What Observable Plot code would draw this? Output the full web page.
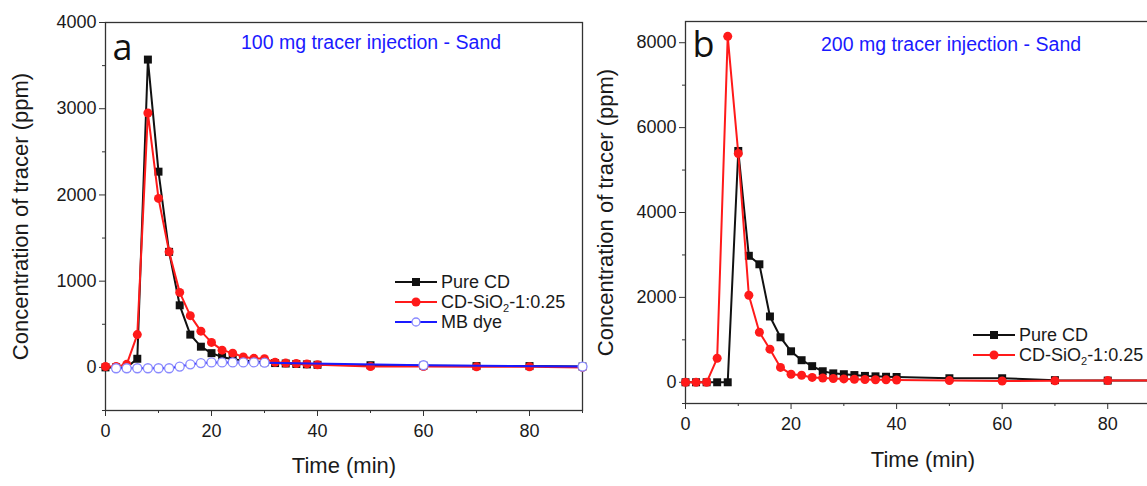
<!DOCTYPE html>
<html><head><meta charset="utf-8">
<script src="https://cdn.jsdelivr.net/npm/d3@7"></script>
<script src="https://cdn.jsdelivr.net/npm/@observablehq/plot@0.6"></script>
<style>
html,body{margin:0;padding:0;background:#fff;overflow:hidden;width:1147px;height:486px;}
#wrap{position:relative;width:1147px;height:486px;overflow:hidden;font-family:"Liberation Sans",Arial,sans-serif;}
.panel{position:absolute;top:0;}
.panel svg{max-width:none !important;display:block;}
.legend{position:absolute;font-size:18px;color:#1a1a1a;line-height:20px;}
.legend .row{display:flex;align-items:center;height:20px;white-space:nowrap;}
.legend svg{margin-right:4px;}
.legend sub{font-size:11px;line-height:0;vertical-align:-4px;}
</style></head><body><div id="wrap"></div>
<script>
// ---------- data ----------
const times = [0,2,4,6,8,10,12,14,16,18,20,22,24,26,28,30,32,34,36,38,40,50,60,70,80,90];
// panel a: 100 mg tracer injection - Sand
const pureCD_a = [0,0,0,100,3570,2270,1340,720,380,240,165,120,95,80,70,60,50,45,40,35,30,25,20,15,15,10];
const cdSiO2_a = [10,10,35,380,2950,1960,1340,870,600,420,290,200,165,120,105,100,60,50,45,40,30,10,10,8,8,0];
const timesMB = [2,4,6,8,10,12,14,16,18,20,22,24,26,28,30,60,90];
const mbDye_a = [-10,-10,-10,-10,-10,-10,10,35,50,58,58,58,58,58,55,25,10];
// panel b: 200 mg tracer injection - Sand
const pureCD_b = [0,0,0,0,0,5450,2980,2780,1550,1060,730,520,380,260,210,190,170,150,140,130,125,95,95,50,40,40];
const cdSiO2_b = [0,0,0,565,8150,5390,2050,1180,780,350,190,165,115,100,90,80,70,65,60,58,55,40,30,35,40,40];

const xMajor = [0,20,40,60,80];
const xMinor = [10,30,50,70,90];
const yMajorA = [0,1000,2000,3000,4000];
const yMinorA = [-500,500,1500,2500,3500];
const yMajorB = [0,2000,4000,6000,8000];
const yMinorB = [-500,1000,3000,5000,7000];

const titles = ["100 mg tracer injection - Sand","200 mg tracer injection - Sand"];

const rows = (xs, ys) => xs.map((t,i)=>({t, v: ys[i]}));

const FONT = "'Liberation Sans', Arial, sans-serif";
const BLACK = "#111", RED = "#ff1a1a", BLUE = "#1a1aff", MBC = "#8a8aff";

function makePanel(o){
  const fmt = d => String(d);
  const marks = [
    Plot.frame({stroke:"#333", strokeWidth:1.3}),
    Plot.axisX(xMajor, {tickSize:6, tickPadding:8, tickFormat:fmt, label:null, fontSize:18, stroke:"#333"}),
    Plot.axisX(xMinor, {tickSize:3, tickFormat:()=>"", label:null, stroke:"#333"}),
    Plot.axisY(o.yMajor, {tickSize:6, tickPadding:3, tickFormat:fmt, label:null, fontSize:18, stroke:"#333"}),
    Plot.axisY(o.yMinor, {tickSize:3, tickFormat:()=>"", label:null, stroke:"#333"}),
    Plot.text(["Concentration of tracer (ppm)"], {frameAnchor:"left", textAnchor:"middle", rotate:-90, dx:o.ytdx, fontSize:22, fill:"#1a1a1a"}),
    Plot.text(["Time (min)"], {frameAnchor:"bottom", dy:o.xtdy, fontSize:22, fill:"#1a1a1a"}),
    Plot.text([o.title], {frameAnchor:"top", dx:o.tdx, dy:o.tdy, fontSize:19.5, fill:BLUE}),
    Plot.text([o.letter], {frameAnchor:"top-left", textAnchor:"start", dx:7, dy:o.ldy, fontSize:36, fill:"#111", fontFamily:"'Open Sans', sans-serif"}),
  ];
  for (const s of o.series){
    const d = rows(s.x, s.y);
    marks.push(Plot.line(d, {x:"t", y:"v", stroke:s.color, strokeWidth:2}));
    marks.push(Plot.dot(d, {x:"t", y:"v", symbol:s.symbol, r:s.r, fill:s.fill, stroke:s.stroke, strokeWidth:s.sw||1}));
  }
  return Plot.plot({
    width:o.width, height:486,
    marginLeft:o.ml, marginRight:o.mr, marginTop:o.mt, marginBottom:o.mb,
    style:{fontFamily:FONT, fontSize:"18px", color:"#1a1a1a", background:"transparent", overflow:"visible", maxWidth:"none"},
    x:{domain:[0,90]},
    y:{domain:o.yDomain},
    marks
  });
}

const wrap = document.getElementById("wrap");

const pa = makePanel({
  width:600, ml:105, mr:18, mt:22, mb:76, yDomain:[-500,4000],
  yMajor:yMajorA, yMinor:yMinorA, ytdx:-85, xtdy:62, tdx:27, tdy:13,
  title:titles[0], letter:"a", ldy:12,
  series:[
    {x:times, y:pureCD_a, color:BLACK, symbol:"square", r:4.5, fill:BLACK, stroke:"none"},
    {x:times, y:cdSiO2_a, color:RED, symbol:"circle", r:4.5, fill:RED, stroke:"none"},
    {x:timesMB, y:mbDye_a, color:BLUE, symbol:"circle", r:4.5, fill:"white", stroke:MBC, sw:1.3},
  ]
});
const da = document.createElement("div"); da.className="panel"; da.style.left="0px"; da.style.width="600px"; da.appendChild(pa); wrap.appendChild(da);

const pb = makePanel({
  width:590, ml:95, mr:20, mt:21, mb:83, yDomain:[-500,8500],
  yMajor:yMajorB, yMinor:yMinorB, ytdx:-80, xtdy:63, tdx:28, tdy:16,
  title:titles[1], letter:"b", ldy:10,
  series:[
    {x:times, y:pureCD_b, color:BLACK, symbol:"square", r:4.5, fill:BLACK, stroke:"none"},
    {x:times, y:cdSiO2_b, color:RED, symbol:"circle", r:4.5, fill:RED, stroke:"none"},
  ]
});
const db = document.createElement("div"); db.className="panel"; db.style.left="590px"; db.style.width="590px"; db.appendChild(pb); wrap.appendChild(db);

// ---------- legends ----------
function swatch(color, kind){
  let m = "";
  if (kind==="square") m = `<rect x="17" y="6" width="8" height="8" fill="${color}"/>`;
  else if (kind==="dot") m = `<circle cx="21" cy="10" r="4.5" fill="${color}"/>`;
  else m = `<circle cx="21" cy="10" r="4" fill="white" stroke="${MBC}" stroke-width="1.3"/>`;
  return `<svg width="42" height="20"><line x1="0" x2="42" y1="10" y2="10" stroke="${color}" stroke-width="2.2"/>${m}</svg>`;
}
function legend(left, top, items){
  const el = document.createElement("div");
  el.className = "legend"; el.style.left = left+"px"; el.style.top = top+"px";
  el.innerHTML = items.map(([c,k,t])=>`<div class="row">${swatch(c,k)}<span>${t}</span></div>`).join("");
  wrap.appendChild(el);
}
const cdLabel = "CD-SiO<sub>2</sub>-1:0.25";
legend(395, 272, [[BLACK,"square","Pure CD"],[RED,"dot",cdLabel],[BLUE,"circle","MB dye"]]);
legend(973, 325, [[BLACK,"square","Pure CD"],[RED,"dot",cdLabel]]);
</script></body></html>
